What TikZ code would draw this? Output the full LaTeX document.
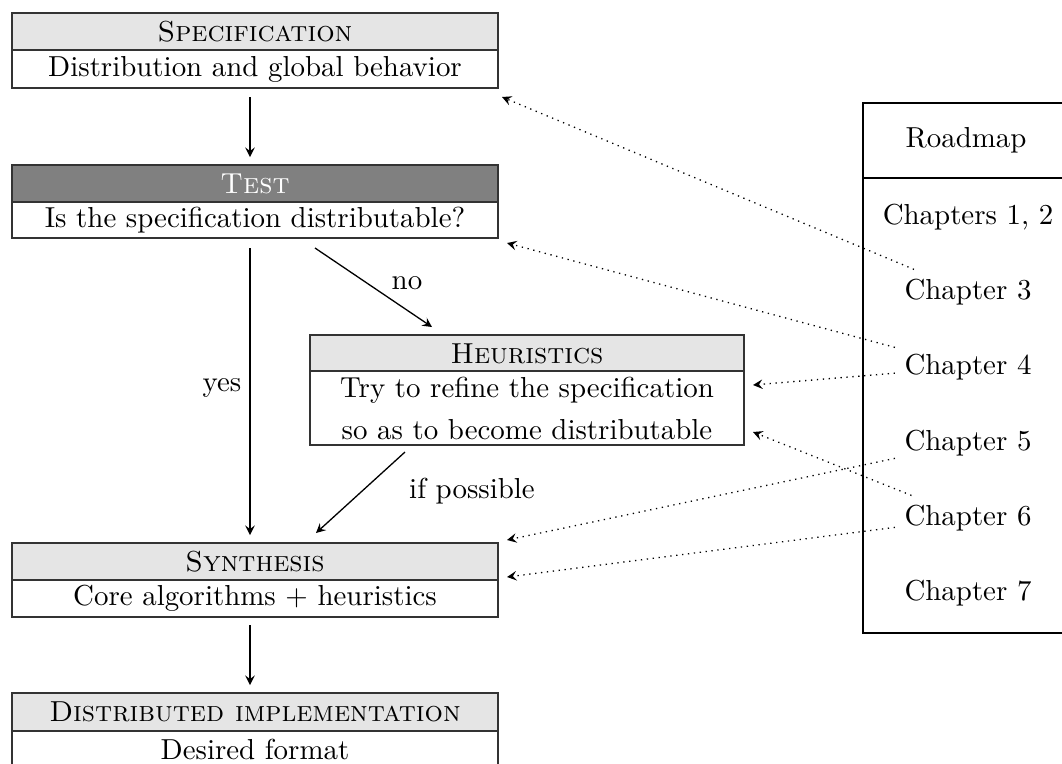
\documentclass[tikz,border=0pt]{standalone}
\usetikzlibrary{calc}
\def\pxu{0.346pt}
\begin{document}
\begin{tikzpicture}[x=0.346pt,y=-0.346pt,>=stealth,
  frame/.style={draw=black!80, line width=0.5pt, inner sep=0pt, outer sep=0pt,
                minimum height=37*\pxu},
  wide/.style={minimum width=486*\pxu},
  headbox/.style={frame, fill=gray!20},
  darkhead/.style={frame, fill=gray, text=white},
  bodybox/.style={frame, fill=white},
  flow/.style={->, line width=0.45pt},
  reflink/.style={->, dash pattern=on 0.45pt off 1.6pt, line width=0.45pt},
  lbl/.style={inner sep=0pt},
  chap/.style={inner sep=3.33pt, outer sep=0pt},
  roadbox/.style={draw=black, line width=0.6pt, minimum width=206*\pxu, inner sep=0pt}
]
\clip (0,0) rectangle (1062,763);

% main flow boxes: header with title, body with description
\node[headbox, wide] (spechead) at (255,31.5) {\textsc{Specification}};
\node[bodybox, wide, minimum height=38*\pxu] (specbody) at (255,69) {Distribution and global behavior};

\node[darkhead, wide] (testhead) at (255,183.5) {\textsc{Test}};
\node[bodybox, wide, minimum height=36*\pxu] (testbody) at (255,220) {Is the specification distributable?};

\node[headbox, minimum width=434*\pxu] (heurhead) at (527,353.5) {\textsc{Heuristics}};
\node[bodybox, minimum width=434*\pxu, minimum height=74*\pxu, align=center] (heurbody) at (527,408)
  {Try to refine the specification\\[2.5pt] so as to become distributable};

\node[headbox, wide] (synthead) at (255,561.5) {\textsc{Synthesis}};
\node[bodybox, wide] (synbody) at (255,598.5) {Core algorithms + heuristics};

\node[headbox, wide, minimum height=38*\pxu] (disthead) at (255,712) {\textsc{Distributed implementation}};
\node[bodybox, wide] (distbody) at (255,749.5) {Desired format};

% roadmap column
\node[roadbox, minimum height=75*\pxu] (roadhead) at (966,140.5) {Roadmap};
\node[roadbox, minimum height=455*\pxu] (roadbody) at (966,405.5) {};
\node[chap] (ch12) at (968,217) {Chapters 1, 2};
\node[chap] (ch3) at (968,292) {Chapter 3};
\node[chap] (ch4) at (968,367) {Chapter 4};
\node[chap] (ch5) at (968,443) {Chapter 5};
\node[chap] (ch6) at (968,518) {Chapter 6};
\node[chap] (ch7) at (968,593) {Chapter 7};

% flow connectors
\draw[flow] ([shift={(-5,9)}]specbody.south) -- ([shift={(-5,-8)}]testhead.north);
\draw[flow] ([shift={(-5,10)}]testbody.south) -- ([shift={(-5,-8)}]synthead.north);
\draw[flow] ([shift={(60,10)}]testbody.south) -- ([shift={(-95,-8)}]heurhead.north);
\draw[flow] ([shift={(-122,7)}]heurbody.south) -- ([shift={(61,-10)}]synthead.north);
\draw[flow] ([shift={(-5,8)}]synbody.south) -- ([shift={(-5,-8)}]disthead.north);

\node[lbl] (yes) at (222,388) {yes};
\node[lbl] (no) at (407,283) {no};
\node[lbl] (ifpos) at (472,491) {if possible};

% chapter references
\coordinate (tSpec) at (502,97);
\coordinate (tTest) at (507,243);
\coordinate (tHeurA) at (753,385);
\coordinate (tHeurB) at (753,432);
\coordinate (tSynA) at (507,540);
\coordinate (tSynB) at (507,577);
\draw[reflink] (ch3) -- (tSpec);
\draw[reflink] (ch4) -- (tTest);
\draw[reflink] (ch4) -- (tHeurA);
\draw[reflink] (ch5) -- (tSynA);
\draw[reflink] (ch6) -- (tHeurB);
\draw[reflink] (ch6) -- (tSynB);
\end{tikzpicture}
\end{document}
